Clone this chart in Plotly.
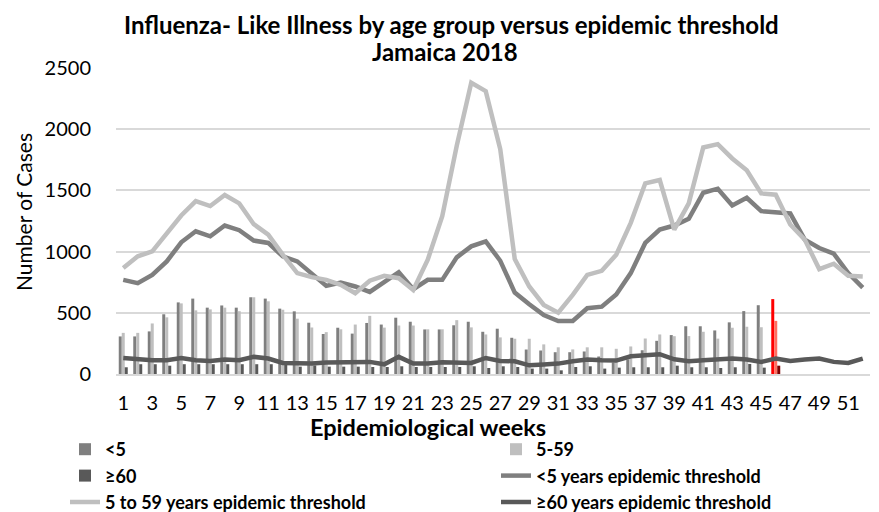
import plotly.graph_objects as go

weeks = list(range(1, 53))
tick_weeks = list(range(1, 53, 2))

# Weekly ILI cases (bars, data available for weeks 1-46)
under5 = [307, 307, 348, 488, 585, 616, 542, 560, 542, 627, 616, 534, 512, 419, 327, 378, 330, 417, 404, 460,
          427, 364, 364, 398, 427, 345, 370, 296, 200, 192, 178, 178, 184, 143, 95, 120, 194, 271, 318, 390,
          390, 356, 422, 514, 562, 612]
age5_59 = [336, 336, 413, 463, 577, 520, 528, 542, 513, 627, 594, 525, 452, 380, 342, 365, 404, 475, 379, 396,
           396, 365, 365, 440, 381, 323, 299, 288, 288, 242, 218, 201, 218, 218, 206, 225, 290, 323, 309, 310,
           345, 289, 378, 386, 382, 434]
over60 = [55, 80, 80, 68, 80, 80, 80, 80, 80, 80, 80, 80, 60, 70, 60, 60, 60, 57, 57, 63,
          57, 57, 57, 57, 63, 49, 63, 57, 44, 44, 30, 57, 63, 44, 52, 55, 55, 55, 68, 55,
          55, 49, 55, 82, 52, 68]

# Epidemic thresholds (52 weeks)
thr_under5 = [769, 742, 810, 920, 1076, 1166, 1125, 1213, 1175, 1090, 1071, 961, 920, 824, 720, 747, 715, 671,
              747, 832, 693, 769, 769, 953, 1043, 1084, 925, 665, 570, 482, 433, 433, 537, 550, 650, 824, 1071,
              1180, 1213, 1268, 1481, 1514, 1377, 1440, 1331, 1322, 1312, 1098, 1029, 983, 824, 706]
thr_5_59 = [865, 961, 1002, 1153, 1295, 1413, 1372, 1462, 1394, 1224, 1139, 975, 824, 791, 769, 728, 660, 762,
            802, 783, 687, 934, 1290, 1865, 2379, 2311, 1837, 939, 715, 564, 501, 646, 810, 843, 975, 1235, 1558,
            1585, 1180, 1394, 1851, 1878, 1761, 1665, 1476, 1465, 1221, 1098, 857, 901, 802, 797]
thr_over60 = [131, 118, 112, 112, 131, 112, 107, 118, 112, 140, 126, 90, 85, 85, 93, 96, 96, 99, 79, 140, 85, 85,
              96, 96, 90, 131, 107, 104, 71, 77, 85, 104, 118, 112, 110, 145, 153, 162, 120, 104, 112, 118, 126,
              118, 99, 126, 107, 118, 126, 99, 90, 126]

current_week = 46

C_U5 = "#7f7f7f"
C_MID = "#bfbfbf"
C_O60 = "#595959"
H_U5 = "#ff0000"
H_MID = "#ff6f61"
H_O60 = "#7f0000"

FONT = "Lato, 'Open Sans', sans-serif"


def bar_colors(base, hl, n):
    return [hl if w == current_week else base for w in weeks[:n]]


fig = go.Figure()
fig.add_trace(go.Bar(x=weeks[:len(under5)], y=under5, name="&lt;5", legend="legend", legendgroup="a",
                     marker=dict(color=bar_colors(C_U5, H_U5, len(under5)), line=dict(width=0))))
fig.add_trace(go.Bar(x=weeks[:len(age5_59)], y=age5_59, name="5-59", legend="legend2", legendgroup="b",
                     marker=dict(color=bar_colors(C_MID, H_MID, len(age5_59)), line=dict(width=0))))
fig.add_trace(go.Bar(x=weeks[:len(over60)], y=over60, name="≥60", legend="legend", legendgroup="c",
                     marker=dict(color=bar_colors(C_O60, H_O60, len(over60)), line=dict(width=0))))
fig.add_trace(go.Scatter(x=weeks, y=thr_under5, mode="lines", name="&lt;5 years epidemic threshold",
                         legend="legend2", legendgroup="d", line=dict(color=C_U5, width=4.5)))
fig.add_trace(go.Scatter(x=weeks, y=thr_5_59, mode="lines", name="5 to 59 years epidemic threshold",
                         legend="legend", legendgroup="e", line=dict(color=C_MID, width=4.5)))
fig.add_trace(go.Scatter(x=weeks, y=thr_over60, mode="lines", name="≥60 years epidemic threshold",
                         legend="legend2", legendgroup="f", line=dict(color=C_O60, width=4.5)))

# The page body has an 8px default margin, so the figure is sized and shifted to compensate.
OFF = 8
W, H = 879 - OFF, 512 - OFF
L, R, T = 116 - OFF, 9, 68 - OFF
B = H - (374 - OFF)
pw = W - L - R
ph = H - T - B


def px_x(sx):
    return (sx - OFF - L) / pw


def px_y(sy):
    return (H - B - (sy - OFF)) / ph


legend_common = dict(orientation="v", xanchor="left", yanchor="top", tracegroupgap=0,
                     bgcolor="rgba(0,0,0,0)", font=dict(family=FONT, size=18, color="#000", weight="bold"))

fig.update_layout(
    width=W, height=H,
    margin=dict(l=L, r=R, t=T, b=B, autoexpand=False),
    paper_bgcolor="white", plot_bgcolor="white",
    barmode="group", bargap=0.38, bargroupgap=0,
    font=dict(family=FONT, color="#000"),
    showlegend=True,
    legend=dict(x=px_x(65), y=px_y(431), **legend_common),
    legend2=dict(x=px_x(496), y=px_y(431), **legend_common),
    xaxis=dict(range=[0.5, 52.5], tickmode="array", tickvals=tick_weeks, ticktext=[str(w) for w in tick_weeks],
               showgrid=False, zeroline=False, showline=True, linecolor="#d9d9d9", linewidth=1.5,
               tickfont=dict(size=20, family=FONT, color="#000"), ticks="", ticklabelstandoff=10),
    yaxis=dict(range=[0, 2500], tickmode="linear", tick0=0, dtick=500, showgrid=True, gridcolor="#d9d9d9",
               gridwidth=1.5, zeroline=False, showline=False,
               tickfont=dict(size=20, family=FONT, color="#000"), ticks="", ticklabelstandoff=24),
    annotations=[
        dict(text="<b>Influenza- Like Illness by age group versus epidemic threshold</b>", xref="paper",
             yref="paper", x=px_x(451), y=px_y(OFF), xanchor="center", yanchor="top", showarrow=False,
             font=dict(size=24, family=FONT, color="#000")),
        dict(text="<b>Jamaica 2018</b>", xref="paper", yref="paper", x=px_x(445), y=px_y(52),
             xanchor="center", yanchor="middle", showarrow=False, font=dict(size=24, family=FONT, color="#000")),
        dict(text="Number of Cases", xref="paper", yref="paper", x=px_x(23), y=px_y(212), textangle=-90,
             xanchor="center", yanchor="middle", showarrow=False, font=dict(size=21, family=FONT, color="#000")),
        dict(text="<b>Epidemiological weeks</b>", xref="paper", yref="paper", x=px_x(428), y=px_y(427),
             xanchor="center", yanchor="middle", showarrow=False, font=dict(size=23.5, family=FONT, color="#000")),
    ],
)

fig.write_html("out.html")
